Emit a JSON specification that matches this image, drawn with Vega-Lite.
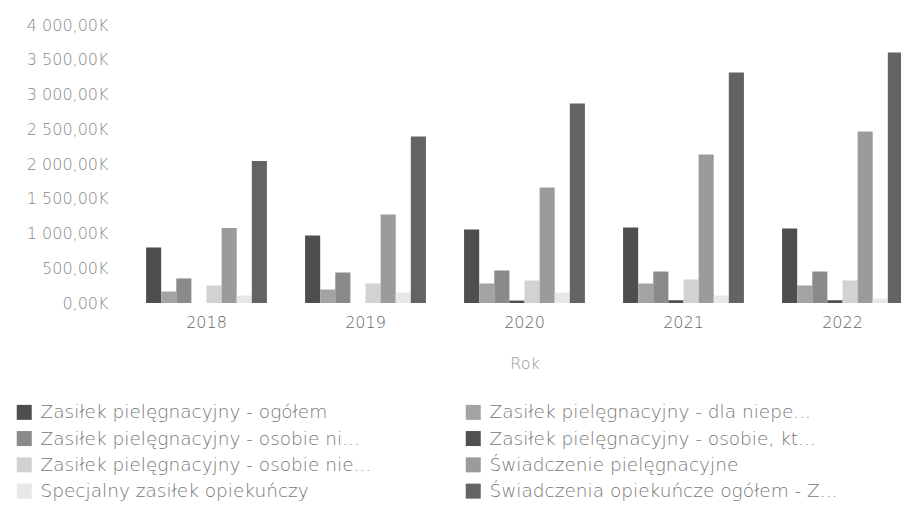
{
  "$schema": "https://vega.github.io/schema/vega-lite/v6.json",
  "autosize": {"type": "none"},
  "padding": {"left": 127, "top": 25, "right": 0, "bottom": 213},
  "width": 774,
  "height": 278,
  "background": "white",
  "data": {"values": [
    {"Rok": "2018", "Seria": "Zasiłek pielęgnacyjny - ogółem", "k": 1, "v": 799},
    {"Rok": "2018", "Seria": "Zasiłek pielęgnacyjny - dla niepe...", "k": 2, "v": 165},
    {"Rok": "2018", "Seria": "Zasiłek pielęgnacyjny - osobie ni...", "k": 3, "v": 353},
    {"Rok": "2018", "Seria": "Zasiłek pielęgnacyjny - osobie, kt...", "k": 4, "v": 0},
    {"Rok": "2018", "Seria": "Zasiłek pielęgnacyjny -  osobie nie...", "k": 5, "v": 252},
    {"Rok": "2018", "Seria": "Świadczenie pielęgnacyjne", "k": 6, "v": 1079},
    {"Rok": "2018", "Seria": "Specjalny zasiłek opiekuńczy", "k": 7, "v": 108},
    {"Rok": "2018", "Seria": "Świadczenia opiekuńcze ogółem - Z...", "k": 8, "v": 2043},
    {"Rok": "2019", "Seria": "Zasiłek pielęgnacyjny - ogółem", "k": 1, "v": 971},
    {"Rok": "2019", "Seria": "Zasiłek pielęgnacyjny - dla niepe...", "k": 2, "v": 194},
    {"Rok": "2019", "Seria": "Zasiłek pielęgnacyjny - osobie ni...", "k": 3, "v": 439},
    {"Rok": "2019", "Seria": "Zasiłek pielęgnacyjny - osobie, kt...", "k": 4, "v": 0},
    {"Rok": "2019", "Seria": "Zasiłek pielęgnacyjny -  osobie nie...", "k": 5, "v": 281},
    {"Rok": "2019", "Seria": "Świadczenie pielęgnacyjne", "k": 6, "v": 1274},
    {"Rok": "2019", "Seria": "Specjalny zasiłek opiekuńczy", "k": 7, "v": 150},
    {"Rok": "2019", "Seria": "Świadczenia opiekuńcze ogółem - Z...", "k": 8, "v": 2396},
    {"Rok": "2020", "Seria": "Zasiłek pielęgnacyjny - ogółem", "k": 1, "v": 1058},
    {"Rok": "2020", "Seria": "Zasiłek pielęgnacyjny - dla niepe...", "k": 2, "v": 281},
    {"Rok": "2020", "Seria": "Zasiłek pielęgnacyjny - osobie ni...", "k": 3, "v": 468},
    {"Rok": "2020", "Seria": "Zasiłek pielęgnacyjny - osobie, kt...", "k": 4, "v": 35},
    {"Rok": "2020", "Seria": "Zasiłek pielęgnacyjny -  osobie nie...", "k": 5, "v": 324},
    {"Rok": "2020", "Seria": "Świadczenie pielęgnacyjne", "k": 6, "v": 1662},
    {"Rok": "2020", "Seria": "Specjalny zasiłek opiekuńczy", "k": 7, "v": 151},
    {"Rok": "2020", "Seria": "Świadczenia opiekuńcze ogółem - Z...", "k": 8, "v": 2871},
    {"Rok": "2021", "Seria": "Zasiłek pielęgnacyjny - ogółem", "k": 1, "v": 1086},
    {"Rok": "2021", "Seria": "Zasiłek pielęgnacyjny - dla niepe...", "k": 2, "v": 281},
    {"Rok": "2021", "Seria": "Zasiłek pielęgnacyjny - osobie ni...", "k": 3, "v": 453},
    {"Rok": "2021", "Seria": "Zasiłek pielęgnacyjny - osobie, kt...", "k": 4, "v": 40},
    {"Rok": "2021", "Seria": "Zasiłek pielęgnacyjny -  osobie nie...", "k": 5, "v": 338},
    {"Rok": "2021", "Seria": "Świadczenie pielęgnacyjne", "k": 6, "v": 2137},
    {"Rok": "2021", "Seria": "Specjalny zasiłek opiekuńczy", "k": 7, "v": 108},
    {"Rok": "2021", "Seria": "Świadczenia opiekuńcze ogółem - Z...", "k": 8, "v": 3317},
    {"Rok": "2022", "Seria": "Zasiłek pielęgnacyjny - ogółem", "k": 1, "v": 1072},
    {"Rok": "2022", "Seria": "Zasiłek pielęgnacyjny - dla niepe...", "k": 2, "v": 252},
    {"Rok": "2022", "Seria": "Zasiłek pielęgnacyjny - osobie ni...", "k": 3, "v": 453},
    {"Rok": "2022", "Seria": "Zasiłek pielęgnacyjny - osobie, kt...", "k": 4, "v": 40},
    {"Rok": "2022", "Seria": "Zasiłek pielęgnacyjny -  osobie nie...", "k": 5, "v": 324},
    {"Rok": "2022", "Seria": "Świadczenie pielęgnacyjne", "k": 6, "v": 2468},
    {"Rok": "2022", "Seria": "Specjalny zasiłek opiekuńczy", "k": 7, "v": 65},
    {"Rok": "2022", "Seria": "Świadczenia opiekuńcze ogółem - Z...", "k": 8, "v": 3605}
  ]},
  "mark": {"type": "bar", "clip": true},
  "encoding": {
    "x": {
      "field": "Rok", "type": "nominal",
      "scale": {"range": [0, 795], "paddingInner": 0.24, "paddingOuter": 0.12},
      "axis": {"title": "Rok", "labelAngle": 0, "ticks": false, "domain": false, "grid": false,
               "labelPadding": 11, "titlePadding": 25, "labelFontSize": 16, "titleFontSize": 16,
               "labelColor": "#666", "titleColor": "#999", "labelFont": "DejaVu Sans", "titleFont": "DejaVu Sans",
               "labelFontWeight": 200, "titleFontWeight": 200}
    },
    "xOffset": {"field": "k", "type": "ordinal", "scale": {"paddingInner": 0, "paddingOuter": 0}},
    "y": {
      "field": "v", "type": "quantitative",
      "scale": {"domain": [0, 4000], "nice": false},
      "axis": {"title": null, "values": [0, 500, 1000, 1500, 2000, 2500, 3000, 3500, 4000],
               "ticks": false, "domain": false, "grid": false, "labelPadding": 19,
               "labelFontSize": 16, "labelColor": "#888", "labelFont": "DejaVu Sans", "labelFontWeight": 200,
               "labelExpr": "replace(replace(format(datum.value, ',.2f'), ',', ' '), '.', ',') + 'K'"}
    },
    "color": {
      "field": "Seria", "type": "nominal",
      "scale": {
        "domain": ["Zasiłek pielęgnacyjny - ogółem", "Zasiłek pielęgnacyjny - osobie ni...", "Zasiłek pielęgnacyjny -  osobie nie...", "Specjalny zasiłek opiekuńczy", "Zasiłek pielęgnacyjny - dla niepe...", "Zasiłek pielęgnacyjny - osobie, kt...", "Świadczenie pielęgnacyjne", "Świadczenia opiekuńcze ogółem - Z..."],
        "range": ["#4e4e4e", "#8a8a8a", "#d2d2d2", "#e8e8e8", "#a3a3a3", "#505050", "#9b9b9b", "#636363"]
      },
      "legend": {
        "title": null, "orient": "none", "legendX": -112, "legendY": 378,
        "columns": 2, "columnPadding": 86, "rowPadding": 7.3,
        "symbolType": "square", "symbolSize": 225, "symbolStrokeWidth": 0, "symbolOffset": 0,
        "labelFontSize": 18.5, "labelColor": "#777", "labelFont": "DejaVu Sans", "labelFontWeight": 200,
        "labelOffset": 7, "labelLimit": 400
      }
    }
  },
  "config": {"view": {"stroke": null}}
}
